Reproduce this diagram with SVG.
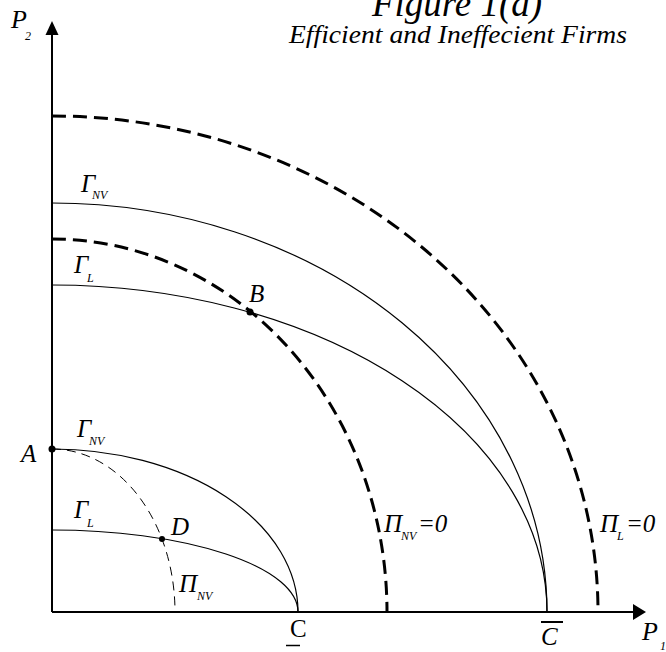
<svg xmlns="http://www.w3.org/2000/svg" width="666" height="652" viewBox="0 0 666 652">
<style>
.t{font-family:"Liberation Serif","Times New Roman",serif;font-style:italic;fill:#000}
.big{font-size:25px}
.sub{font-size:12px}
.ax{stroke:#000;stroke-width:2;fill:none}
.sol{stroke:#000;stroke-width:1.2;fill:none}
.thk{stroke:#000;stroke-width:3;fill:none;stroke-dasharray:14 7}
.thn{stroke:#000;stroke-width:1;fill:none;stroke-dasharray:9 6}
</style>
<rect width="666" height="652" fill="#fff"/>
<g id="title">
<text class="t" x="457" y="16" font-size="37" text-anchor="middle">Figure 1(a)</text>
<text class="t" x="458" y="43" font-size="26" text-anchor="middle" textLength="338" lengthAdjust="spacingAndGlyphs">Efficient and Ineffecient Firms</text>
</g>
<g id="axes">
<line class="ax" x1="52" y1="612" x2="52" y2="33"/>
<polygon points="52,21 45.5,35 58.5,35" fill="#000"/>
<line class="ax" x1="52" y1="612" x2="634" y2="612"/>
<polygon points="646,612 633,604 633,620" fill="#000"/>
<text class="t" x="11" y="28" font-size="26">P</text>
<text class="t sub" x="25" y="40">2</text>
<text class="t" x="642" y="640" font-size="26">P</text>
<text class="t sub" x="660" y="650">1</text>
</g>
<g id="connectors">
<path id="piL" class="thk" d="M52,116 A546,496 0 0 1 598,612"/>
<path id="gammaNV1" class="sol" d="M52,203 A495,409 0 0 1 547,612"/>
<path id="piNV0" class="thk" d="M52,239 A335,373 0 0 1 387,612"/>
<path id="gammaL1" class="sol" d="M52,285 A495,327 0 0 1 547,612"/>
<path id="gammaNV2" class="sol" d="M52,449 A246,163 0 0 1 298,612"/>
<path id="gammaL2" class="sol" d="M52,530 A246,82 0 0 1 298,612"/>
<path id="piNV" class="thn" d="M52,449 A123,163 0 0 1 175,612"/>
</g>
<g id="pointA">
<circle cx="52" cy="449" r="3.5"/>
<text class="t big" x="21" y="462">A</text>
</g>
<g id="pointB">
<circle cx="250" cy="312" r="3.5"/>
<text class="t big" x="249" y="302">B</text>
</g>
<g id="pointD">
<circle cx="162" cy="539" r="3"/>
<text class="t big" x="171" y="535">D</text>
</g>
<g id="labels">
<text class="t big" x="81" y="192">Γ</text><text class="t sub" x="92" y="199">NV</text>
<text class="t big" x="74" y="273">Γ</text><text class="t sub" x="87" y="282">L</text>
<text class="t big" x="77" y="437">Γ</text><text class="t sub" x="89" y="445">NV</text>
<text class="t big" x="74" y="518">Γ</text><text class="t sub" x="87" y="527">L</text>
<text class="t big" x="179" y="592">Π</text><text class="t sub" x="197" y="600">NV</text>
<text class="t big" x="384" y="532">Π</text><text class="t sub" x="401" y="540">NV</text><text class="t big" x="418" y="532">=0</text>
<text class="t big" x="600" y="532">Π</text><text class="t sub" x="617" y="540">L</text><text class="t big" x="626" y="532">=0</text>
</g>
<g id="ticks">
<text x="290" y="637" font-family="Liberation Serif, serif" font-size="25">C</text>
<line x1="286" y1="645.5" x2="300" y2="645.5" stroke="#000" stroke-width="1.5"/>
<text class="t big" x="541" y="645">C</text>
<line x1="541" y1="622" x2="563" y2="622" stroke="#000" stroke-width="2"/>
</g>
</svg>
